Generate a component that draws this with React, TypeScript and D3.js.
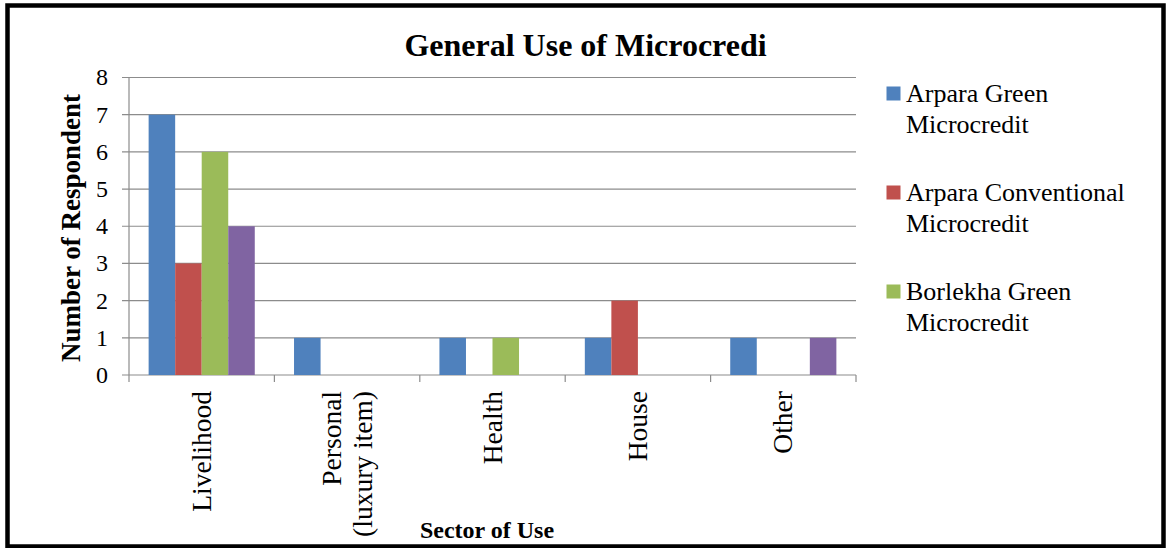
import React from "react";
import * as d3 from "d3";

const categories: string[][] = [["Livelihood"], ["Personal", "(luxury item)"], ["Health"], ["House"], ["Other"]];
const seriesNames = [
  "Arpara Green Microcredit",
  "Arpara Conventional Microcredit",
  "Borlekha Green Microcredit",
  "Borlekha Conventional Microcredit",
];
const legendLines = [
  ["Arpara Green", "Microcredit"],
  ["Arpara Conventional", "Microcredit"],
  ["Borlekha Green", "Microcredit"],
];
const arparaGreen = [7, 1, 1, 1, 1];
const arparaConventional = [3, 0, 0, 2, 0];
const borlekhaGreen = [6, 0, 1, 0, 0];
const borlekhaConventional = [4, 0, 0, 0, 1];
const seriesValues = [arparaGreen, arparaConventional, borlekhaGreen, borlekhaConventional];
const colors = ["#4F81BD", "#C0504D", "#9BBB59", "#8064A2"];
const yTicks = [0, 1, 2, 3, 4, 5, 6, 7, 8];

const W = 1167, H = 548;
const L = 129, R = 856, T = 77.5, B = 375;
const serif = "'Liberation Serif', 'Times New Roman', serif";

export default function App() {
  const catKeys = categories.map((c) => c.join(" "));
  const x0 = d3.scaleBand<string>().domain(catKeys).range([L, R]).paddingInner(0.27).paddingOuter(0.135);
  const x1 = d3.scaleBand<string>().domain(seriesNames).range([0, x0.bandwidth()]);
  const y = d3.scaleLinear().domain([0, 8]).range([B, T]);
  const step = (R - L) / categories.length;

  return (
    <>
      <style>{`body{margin:0}`}</style>
      <svg width={W} height={H} style={{ display: "block", fontFamily: serif }}>
        <rect x={0} y={0} width={W} height={H} fill="#fff" />
        {/* frame */}
        <rect x={7.5} y={5.5} width={1156} height={541} fill="none" stroke="#000" strokeWidth={4.5} />
        {/* gridlines */}
        {yTicks.map((t) => (
          <line key={t} x1={L - 7} x2={R} y1={y(t)} y2={y(t)} stroke="#8c8c8c" strokeWidth={1.2} />
        ))}
        <line x1={L} x2={L} y1={T} y2={B} stroke="#8c8c8c" strokeWidth={1.2} />
        {/* category ticks */}
        {d3.range(categories.length + 1).map((i) => (
          <line key={i} x1={L + i * step} x2={L + i * step} y1={B} y2={B + 7} stroke="#8c8c8c" strokeWidth={1.2} />
        ))}
        {/* bars */}
        {seriesValues.map((vals, si) =>
          vals.map((v, ci) =>
            v > 0 ? (
              <rect
                key={`${si}-${ci}`}
                x={(x0(catKeys[ci]) as number) + (x1(seriesNames[si]) as number)}
                y={y(v)}
                width={x1.bandwidth()}
                height={y(0) - y(v)}
                fill={colors[si]}
              />
            ) : null
          )
        )}
        {/* y tick labels */}
        {yTicks.map((t) => (
          <text key={t} x={108} y={y(t)} dy="0.33em" textAnchor="end" fontSize={24} fill="#000">
            {t}
          </text>
        ))}
        {/* x labels */}
        {categories.map((lines, ci) => {
          const cx = (x0(catKeys[ci]) as number) + x0.bandwidth() / 2;
          const n = lines.length;
          return lines.map((ln, li) => {
            const xx = cx + 9 + (li - (n - 1) / 2) * 31;
            return (
              <text key={`${ci}-${li}`} transform={`translate(${xx},${391}) rotate(-90)`} textAnchor="end" fontSize={27.5} fill="#000">
                {ln}
              </text>
            );
          });
        })}
        {/* title */}
        <text x={585.5} y={56} textAnchor="middle" fontSize={32} fontWeight="bold" fill="#000">
          General Use of Microcredi
        </text>
        {/* y title */}
        <text transform={`translate(80,228) rotate(-90)`} textAnchor="middle" fontSize={27} fontWeight="bold" fill="#000">
          Number of Respondent
        </text>
        {/* x title */}
        <text x={487} y={538} textAnchor="middle" fontSize={24} fontWeight="bold" fill="#000">
          Sector of Use
        </text>
        {/* legend */}
        {legendLines.map((lines, i) => (
          <g key={i} transform={`translate(886,${101.5 + i * 99})`}>
            <rect x={0.5} y={-15} width={14} height={14} fill={colors[i]} />
            {lines.map((ln, li) => (
              <text key={li} x={20} y={li * 31} fontSize={26} fill="#000">
                {ln}
              </text>
            ))}
          </g>
        ))}
      </svg>
    </>
  );
}
